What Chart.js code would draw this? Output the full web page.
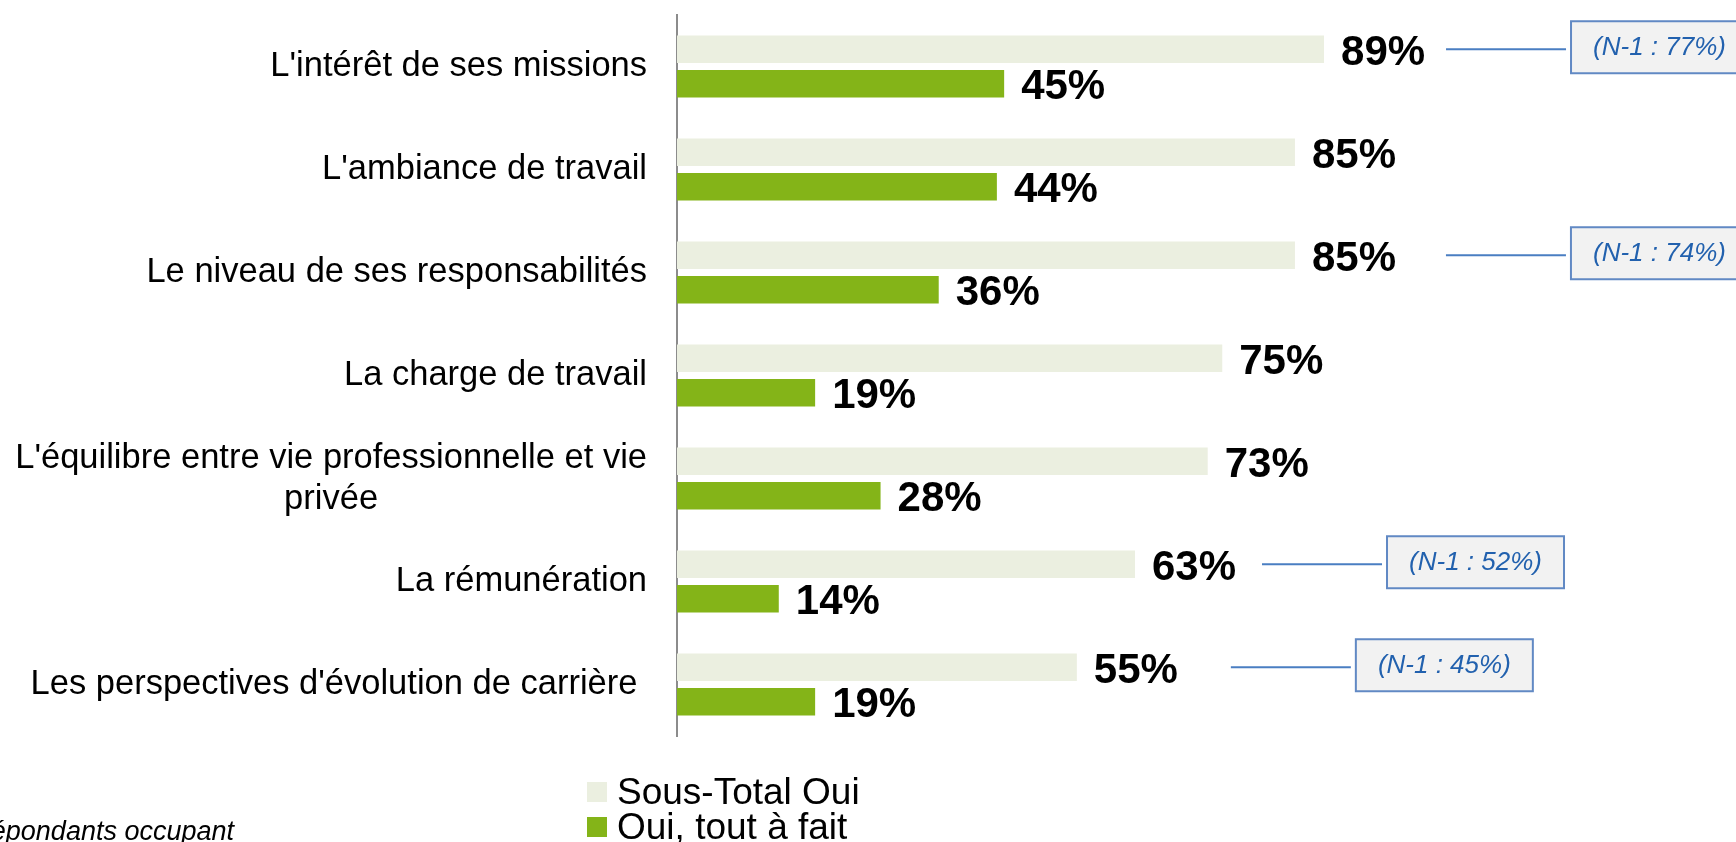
<!DOCTYPE html>
<html lang="fr">
<head>
<meta charset="utf-8">
<script src="https://cdn.jsdelivr.net/npm/chart.js@4.4.1/dist/chart.umd.min.js"></script>
<style>
  body { margin: 0; background: #fff; font-family: "Liberation Sans", Arial, sans-serif; }
  #wrap { position: relative; width: 1736px; height: 842px; overflow: hidden; }
  #legend { position: absolute; left: 587px; top: 774px; font-size: 37px; line-height: 35px; color: #000; }
  #legend div { display: flex; align-items: center; white-space: nowrap; }
  #legend span.box { display: inline-block; width: 20px; height: 20px; margin-right: 10px; }
</style>
</head>
<body>
<div id="wrap">
  <canvas id="chart"></canvas>
  <div id="legend"></div>
</div>
<script>
// categories (multi-line labels as arrays)
const categories = [
  "L'intérêt de ses missions",
  "L'ambiance de travail",
  "Le niveau de ses responsabilités",
  "La charge de travail",
  ["L'équilibre entre vie professionnelle et vie", "privée"],
  "La rémunération",
  "Les perspectives d'évolution de carrière "
];
const sousTotalOui = [89, 85, 85, 75, 73, 63, 55];
const ouiToutAFait = [45, 44, 36, 19, 28, 14, 19];
const seriesNames = ['Sous-Total Oui', 'Oui, tout à fait'];

// previous year reminders (row index -> value)
const noteRows = [0, 2, 5, 6];
const noteValues = [77, 74, 52, 45];
const noteGaps = [122, 151, 127, 154]; // px from bar end to the connector line

const footNote = 'Base : ensemble des répondants occupant';

const colLight = '#EBEFE0';
const colGreen = '#84B418';
const FONT = '"Liberation Sans", Arial, sans-serif';

// legend (html)
const legendEl = document.getElementById('legend');
[colLight, colGreen].forEach((c, i) => {
  const d = document.createElement('div');
  d.innerHTML = '<span class="box" style="background:' + c + '"></span>' + seriesNames[i];
  legendEl.appendChild(d);
});

const drawStuff = {
  id: 'drawStuff',
  afterDatasetsDraw(chart) {
    const ctx = chart.ctx;
    const yScale = chart.scales.y;
    ctx.save();

    // category labels
    ctx.fillStyle = '#000';
    ctx.font = '34.5px ' + FONT;
    ctx.textBaseline = 'middle';
    const rightX = 647;
    categories.forEach((lab, i) => {
      const cy = yScale.getPixelForValue(i);
      if (Array.isArray(lab)) {
        const w = Math.max(...lab.map(t => ctx.measureText(t).width));
        const cx = rightX - w / 2;
        const lh = 41;
        ctx.textAlign = 'center';
        lab.forEach((t, k) => {
          ctx.fillText(t, cx, cy + (k - (lab.length - 1) / 2) * lh);
        });
      } else {
        ctx.textAlign = 'right';
        ctx.fillText(lab, rightX, cy);
      }
    });

    // value labels
    ctx.font = 'bold 42px ' + FONT;
    ctx.textAlign = 'left';
    chart.data.datasets.forEach((ds, di) => {
      chart.getDatasetMeta(di).data.forEach((bar, i) => {
        ctx.fillText(ds.data[i] + '%', bar.x + 17, bar.y + 4);
      });
    });

    // N-1 notes
    const meta0 = chart.getDatasetMeta(0);
    noteRows.forEach((r, k) => {
      const bar = meta0.data[r];
      const x1 = bar.x + noteGaps[k];
      const x2 = x1 + 120;
      const y = bar.y;
      ctx.strokeStyle = '#4A7EC2';
      ctx.lineWidth = 2;
      ctx.beginPath();
      ctx.moveTo(x1, y);
      ctx.lineTo(x2, y);
      ctx.stroke();
      const bx = x2 + 5, bw = 177, bh = 52, by = y - bh / 2 - 2;
      ctx.fillStyle = '#F2F2F2';
      ctx.fillRect(bx, by, bw, bh);
      ctx.strokeStyle = '#6189C4';
      ctx.strokeRect(bx, by, bw, bh);
      ctx.fillStyle = '#2261AE';
      ctx.font = 'italic 26px ' + FONT;
      ctx.textAlign = 'center';
      ctx.fillText('(N-1 : ' + noteValues[k] + '%)', bx + bw / 2, by + bh / 2 + 1);
    });

    // foot note
    ctx.fillStyle = '#000';
    ctx.font = 'italic 27px ' + FONT;
    ctx.textAlign = 'right';
    ctx.textBaseline = 'alphabetic';
    ctx.fillText(footNote, 234, 840);

    ctx.restore();
  }
};

new Chart(document.getElementById('chart'), {
  type: 'bar',
  data: {
    labels: categories,
    datasets: [
      { label: seriesNames[0], data: sousTotalOui, backgroundColor: colLight },
      { label: seriesNames[1], data: ouiToutAFait, backgroundColor: colGreen }
    ]
  },
  options: {
    indexAxis: 'y',
    responsive: true,
    maintainAspectRatio: false,
    animation: false,
    events: [],
    categoryPercentage: 0.67,
    barPercentage: 0.8,
    layout: { padding: { top: 15, bottom: 106, right: 332, left: 0 } },
    scales: {
      x: { display: false, min: 0, max: 100 },
      y: {
        display: true,
        grid: { display: false },
        border: { display: true, color: '#8C8C8C', width: 2 },
        ticks: { display: false },
        afterFit(scale) { scale.width = 677; }
      }
    },
    plugins: {
      legend: { display: false },
      tooltip: { enabled: false }
    }
  },
  plugins: [drawStuff]
});
</script>
</body>
</html>
